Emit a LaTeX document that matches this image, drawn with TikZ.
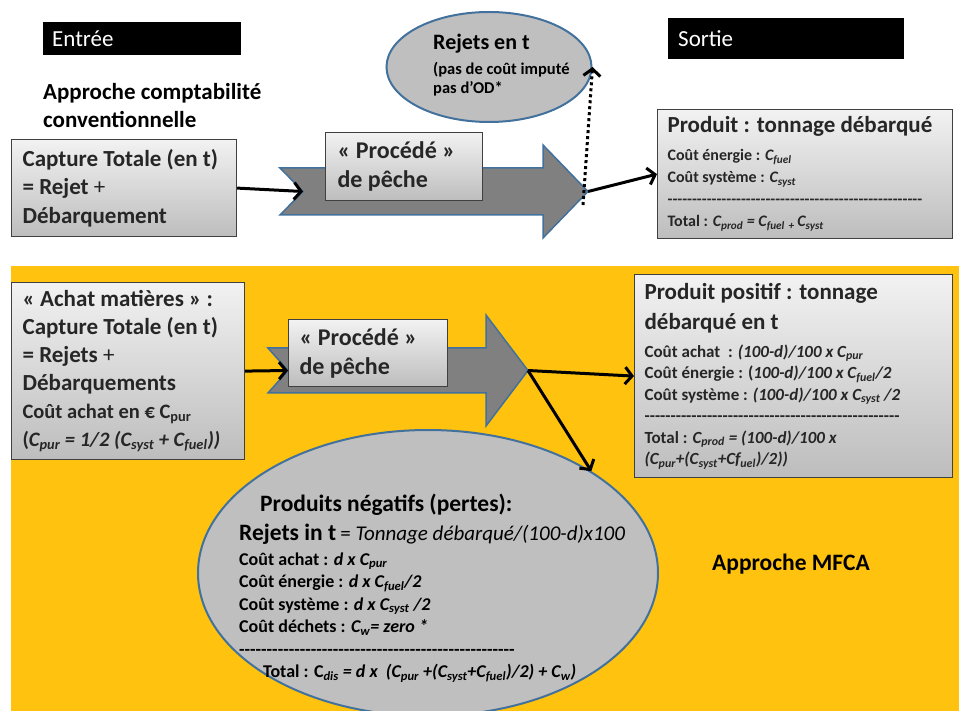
\documentclass[tikz,border=0pt]{standalone}
\usepackage{fontspec}
\newfontfamily\calib{Carlito}
\usetikzlibrary{arrows.meta,shapes.geometric}
\definecolor{mfca}{HTML}{FFC20E}
\definecolor{arrowgrey}{HTML}{808080}
\definecolor{edgeblue}{HTML}{41719C}
\definecolor{ovalgrey}{HTML}{BFBFBF}
\definecolor{boxtop}{HTML}{F2F2F2}
\definecolor{boxbottom}{HTML}{BDBDBD}
\newcommand{\Csub}[1]{C\textsubscript{#1}}

\begin{document}
\begin{tikzpicture}[x=1pt,y=-1pt]
\tikzset{hdrbox/.style = {fill=black,text=white,anchor=north west,align=flush left,inner ysep=0pt,font=\calib\fontsize{23}{28}\selectfont}}
\tikzset{greybox/.style = {draw=black!75,line width=1.2pt,top color=boxtop,bottom color=boxbottom,anchor=north west,align=flush left,inner xsep=11pt,inner ysep=0pt,text=black!85,font=\calib\bfseries\fontsize{23}{28.5}\selectfont}}
\tikzset{plain/.style = {anchor=north west,align=left,inner sep=0pt,font=\calib\bfseries}}
\tikzset{oval/.style = {shape=ellipse,draw=edgeblue,fill=ovalgrey,line width=2pt,inner sep=0pt}}
\tikzset{bigarrow/.style = {draw=edgeblue,fill=arrowgrey,line width=1.5pt,line join=miter}}
\tikzset{edge/.style = {line width=3pt,-{Straight Barb[length=7pt,width=17pt]}}}
\tikzset{dotedge/.style = {edge,dash pattern=on 3pt off 3pt}}
\useasboundingbox (0,0) rectangle (959,711);
% conventional approach
\node[hdrbox,minimum width=198pt,minimum height=33pt,text width=180pt,inner xsep=9pt] (entree) at (43,22) {Entrée};
\node[hdrbox,minimum width=236pt,minimum height=41pt,text width=216pt,inner xsep=10pt] (sortie) at (668,18) {Sortie};
\node[plain,font=\calib\bfseries\fontsize{23}{28}\selectfont] (approche) at (43,83.5) {Approche comptabilité\\conventionnelle};
\node[greybox,minimum width=225pt,minimum height=97pt,text width=203pt] (capture) at (11,139) {Capture Totale (en t)\\= Rejet {\mdseries +}\\Débarquement};
\coordinate (notch1) at (303,191.5);
\coordinate (tip1) at (588,191.5);
\draw[bigarrow] (280,168) -- (543,168) -- (543,145) -- (tip1) -- (543,238) -- (543,215) -- (280,215) -- (notch1) -- cycle;
\node[greybox,minimum width=157pt,minimum height=68pt,text width=133pt,inner xsep=12pt,font=\calib\bfseries\fontsize{24}{29}\selectfont] (proc1) at (325,132) {« Procédé »\\de pêche};
\node[oval,minimum width=205pt,minimum height=110pt] (rejets) at (489,67) {};
\node[plain,font=\calib\bfseries\fontsize{16.5}{19}\selectfont] (rejetstxt) at (433,33.5) {{\fontsize{22}{19}\selectfont Rejets en t}\\[6pt](pas de coût imputé\\pas d’OD*};
\node[greybox,minimum width=295pt,minimum height=129pt,text width=275pt,inner xsep=10pt,font=\calib\bfseries\fontsize{16}{22}\selectfont] (produit) at (657,109) {{\fontsize{23}{22}\selectfont Produit : tonnage débarqué}\\[6pt]Coût énergie : \textit{\Csub{fuel}}\\Coût système : \textit{\Csub{syst}}\\----------------------------------------------------\\Total : \textit{\Csub{prod} = \Csub{fuel} \textsubscript{+}\,\Csub{syst}}};
%edges
\coordinate (dot1) at (583,205);
\draw[edge] (capture.east) -- (notch1);
\draw[edge] (tip1) -- (produit.west);
\draw[dotedge] (dot1) -- (rejets.east);
% MFCA approach
\fill[mfca] (11,266) rectangle (959,711);
\node[oval,minimum width=460pt,minimum height=286pt] (pertes) at (428,573) {};
\coordinate (notch2) at (288,370.5);
\coordinate (tip2) at (528,370.5);
\draw[bigarrow] (268,348) -- (486,348) -- (486,315) -- (tip2) -- (486,426) -- (486,393) -- (268,393) -- (notch2) -- cycle;
\node[greybox,minimum width=159pt,minimum height=67pt,text width=137pt,inner xsep=11pt,font=\calib\bfseries\fontsize{24}{29}\selectfont] (proc2) at (288,319) {« Procédé »\\de pêche};
\node[greybox,minimum width=233pt,minimum height=177pt,text width=211pt,font=\calib\bfseries\fontsize{23}{28}\selectfont] (achat) at (11,282) {« Achat matières » :\\Capture Totale (en t)\\= Rejets {\mdseries +}\\Débarquements\\{\fontsize{20.5}{28}\selectfont Coût achat en € \Csub{pur}}\\{\fontsize{20.5}{28}\selectfont (\textit{\Csub{pur} = 1/2 (\Csub{syst} + \Csub{fuel}))}}};
\node[greybox,minimum width=318pt,minimum height=203pt,text width=298pt,inner xsep=10pt,font=\calib\bfseries\fontsize{17}{21.5}\selectfont] (positif) at (634,274) {{\fontsize{23}{21.5}\selectfont Produit positif : tonnage}\\[8.5pt]{\fontsize{23}{21.5}\selectfont débarqué en t}\\[6.5pt]Coût achat~ : \textit{(100-d)/100 x \Csub{pur}}\\Coût énergie : (\textit{100-d)/100 x \Csub{fuel}/2}\\Coût système : \textit{(100-d)/100 x \Csub{syst} /2}\\-------------------------------------------------\\Total : \textit{\Csub{prod} = (100-d)/100 x}\\\textit{(\Csub{pur}+(\Csub{syst}+Cf\textsubscript{uel})/2))}};
\node[plain,font=\calib\bfseries\fontsize{18}{22.5}\selectfont] (pertestxt) at (239,493.5) {\hspace*{21pt}{\fontsize{23.5}{22}\selectfont Produits négatifs (pertes):}\\[6.5pt]{\fontsize{23.5}{22}\selectfont Rejets in t} {\mdseries\fontsize{21}{22}\selectfont = \itshape Tonnage débarqué/(100-d)x100}\\[2.5pt]Coût achat : \textit{d x \Csub{pur}}\\Coût énergie : \textit{d x \Csub{fuel}/2}\\Coût système : \textit{d x \Csub{syst} /2}\\Coût déchets : \textit{\Csub{w}= zero *}\\--------------------------------------------------\\\hspace*{24pt}Total : C\textsubscript{\textit{dis}} \textit{= d x~ (\Csub{pur} +(\Csub{syst}+\Csub{fuel})/2) + \Csub{w})}};
\node[plain,font=\calib\bfseries\fontsize{23.5}{28}\selectfont] (mfcatxt) at (712,553.5) {Approche MFCA};
%edges
\draw[edge] (achat.east) -- (notch2);
\draw[edge] (tip2) -- (positif.west);
\draw[edge] (tip2) -- (pertes.north east);
\end{tikzpicture}
\end{document}
